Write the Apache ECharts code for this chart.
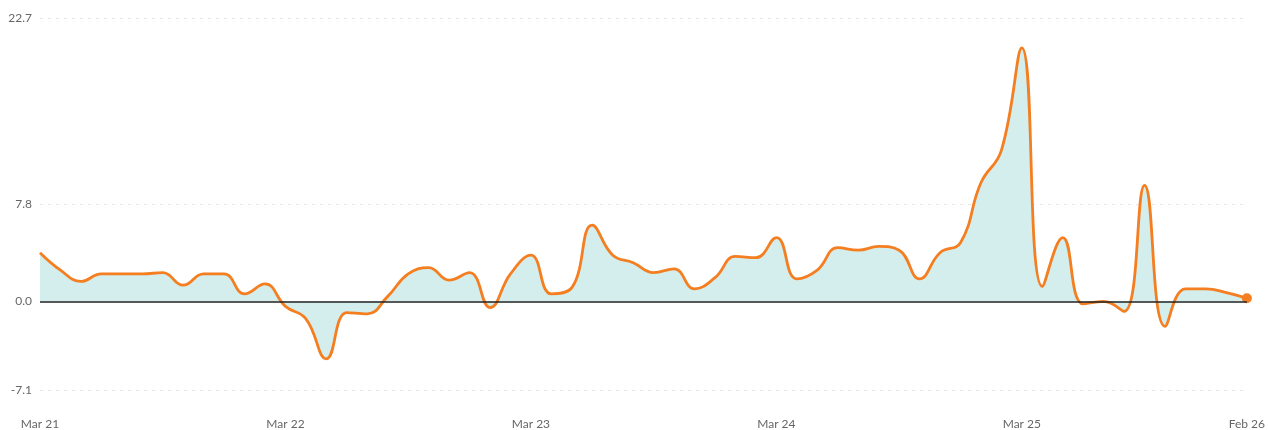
<!DOCTYPE html>
<html>
<head>
<meta charset="utf-8">
<script src="https://cdn.jsdelivr.net/npm/echarts@6/dist/echarts.min.js"></script>
<style>
  html, body { margin: 0; padding: 0; background: #fff; }
  #chart { width: 1268px; height: 430px; }
</style>
</head>
<body>
<div id="chart"></div>
<script>
// monthly values, Mar 21 .. Feb 26
var monthNames = ['Jan', 'Feb', 'Mar', 'Apr', 'May', 'Jun', 'Jul', 'Aug', 'Sep', 'Oct', 'Nov', 'Dec'];
var months = [];
for (var i = 0; i < 60; i++) {
    var m = (2 + i) % 12;
    var yr = 21 + Math.floor((2 + i) / 12);
    months.push(monthNames[m] + ' ' + yr);
}

var values = [
    3.9, 2.5, 1.6, 2.2, 2.2, 2.2, 2.3, 1.3, 2.2, 2.2,
    0.6, 1.4, -0.4, -1.4, -4.6, -0.9, -1.0, 0.4, 2.2, 2.7,
    1.7, 2.3, -0.5, 2.2, 3.7, 0.6, 1.1, 6.1, 3.7, 3.1,
    2.3, 2.6, 1.0, 1.9, 3.6, 3.5, 5.1, 1.8, 2.5, 4.3,
    4.1, 4.4, 4.1, 1.8, 3.9, 4.7, 9.5, 12.1, 20.3, 1.2,
    5.1, -0.2, 0.0, -0.8, 9.3, -2.0, 1.0, 1.0, 0.7, 0.25
];

var yTicks = [-7.1, 0.0, 7.8, 22.7];
var labelIdx = [0, 12, 24, 36, 48, 59];

var seriesData = values.map(function (v, i) {
    if (i === values.length - 1) {
        return { value: v, symbol: 'circle', symbolSize: 10 };
    }
    return v;
});

var chart = echarts.init(document.getElementById('chart'));
chart.setOption({
    animation: false,
    grid: { left: 40, right: 21, top: 18, bottom: 39 },
    xAxis: {
        type: 'category',
        data: months,
        boundaryGap: false,
        axisLine: { show: false },
        axisTick: { show: false },
        axisLabel: {
            interval: function (idx) { return labelIdx.indexOf(idx) >= 0; },
            margin: 28,
            color: '#666',
            fontFamily: 'Lato',
            fontSize: 12
        },
        splitLine: { show: false }
    },
    yAxis: {
        type: 'value',
        min: -7.1,
        max: 22.7,
        axisLine: { show: false },
        axisTick: { show: false, customValues: yTicks },
        axisLabel: {
            customValues: yTicks,
            formatter: function (v) { return v.toFixed(1); },
            margin: 8,
            color: '#666',
            fontFamily: 'Lato',
            fontSize: 12
        },
        splitLine: {
            show: true,
            lineStyle: { color: '#e6e6e6', type: [3, 5], width: 1 }
        }
    },
    series: [{
        type: 'line',
        data: seriesData,
        smooth: 0.45,
        symbol: 'none',
        showSymbol: true,
        showAllSymbol: true,
        lineStyle: { color: '#f47e20', width: 2.8 },
        itemStyle: { color: '#f47e20' },
        areaStyle: { color: '#d4eeed', opacity: 1, origin: 0 },
        markLine: {
            silent: true,
            symbol: 'none',
            label: { show: false },
            lineStyle: { color: '#222', type: 'solid', width: 1.5 },
            data: [{ yAxis: 0 }]
        },
        z: 3
    }]
});
</script>
</body>
</html>
